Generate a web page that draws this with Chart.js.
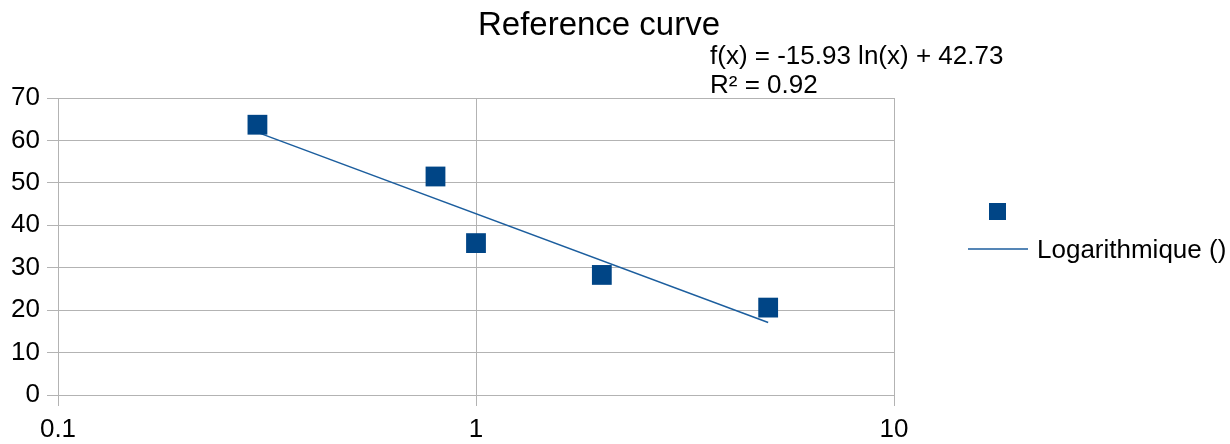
<!DOCTYPE html>
<html>
<head>
<meta charset="utf-8">
<script src="https://cdn.jsdelivr.net/npm/chart.js@4"></script>
<style>
  html, body { margin: 0; padding: 0; background: #fff; }
  #wrap { width: 1230px; height: 444px; position: relative; }
</style>
</head>
<body>
<div id="wrap"><canvas id="refChart"></canvas></div>
<script>
// Data
const xValues = [0.3, 0.8, 1, 2, 5];
const yValues = [63.7, 51.5, 35.8, 28.3, 20.6];

// Logarithmic trend line, end points
const trendX = [0.3, 5];
const trendY = [61.9, 17.1];

const xTicks = [0.1, 1, 10];
const xTickLabels = ['0.1', '1', '10'];

const titleText = 'Reference curve';
const equationLines = ['f(x) = -15.93 ln(x) + 42.73', 'R\u00b2 = 0.92'];
const seriesLabels = ['', 'Logarithmique ()'];

const FONT = "'Liberation Sans', Arial, sans-serif";
const GRID = '#b3b3b3';
const MARKER = '#004586';
const TREND = '#1c5e9e';

// Title, equation and legend drawn by hand (LibreOffice style layout)
const annotations = {
  id: 'annotations',
  afterDraw(chart) {
    const ctx = chart.ctx;
    ctx.save();
    ctx.fillStyle = '#000';
    ctx.textBaseline = 'alphabetic';

    ctx.font = '33px ' + FONT;
    ctx.textAlign = 'center';
    ctx.fillText(titleText, 599, 35);

    ctx.font = '26px ' + FONT;
    ctx.textAlign = 'left';
    ctx.fillText(equationLines[0], 710, 64);
    ctx.fillText(equationLines[1], 710, 93);

    // legend
    const ds = chart.data.datasets;
    ctx.fillStyle = ds[0].backgroundColor;
    ctx.fillRect(989, 203, 17, 17);
    ctx.strokeStyle = ds[1].borderColor;
    ctx.lineWidth = 1.5;
    ctx.beginPath();
    ctx.moveTo(968, 249);
    ctx.lineTo(1028, 249);
    ctx.stroke();
    ctx.fillStyle = '#000';
    ctx.fillText(ds[1].label, 1037, 258);
    ctx.restore();
  }
};

const ctx = document.getElementById('refChart');
new Chart(ctx, {
  type: 'scatter',
  data: {
    datasets: [
      {
        label: seriesLabels[0],
        data: xValues.map((x, i) => ({ x: x, y: yValues[i] })),
        pointStyle: 'rect',
        pointRadius: 14,
        pointHoverRadius: 14,
        backgroundColor: MARKER,
        borderColor: MARKER,
        borderWidth: 0,
        order: 1
      },
      {
        label: seriesLabels[1],
        data: trendX.map((x, i) => ({ x: x, y: trendY[i] })),
        showLine: true,
        pointRadius: 0,
        borderColor: TREND,
        borderWidth: 1.5,
        backgroundColor: TREND,
        order: 2
      }
    ]
  },
  options: {
    responsive: true,
    maintainAspectRatio: false,
    animation: false,
    layout: { padding: { top: 98, right: 336, left: 0, bottom: 0 } },
    plugins: {
      legend: { display: false },
      title: { display: false },
      tooltip: { enabled: false }
    },
    scales: {
      x: {
        type: 'logarithmic',
        position: 'bottom',
        min: 0.1,
        max: 10,
        afterBuildTicks: (scale) => {
          scale.ticks = xTicks.map(v => ({ value: v }));
        },
        afterFit: (scale) => { scale.height = 49; },
        ticks: {
          autoSkip: false,
          maxRotation: 0,
          padding: 8,
          color: '#000',
          font: { family: FONT, size: 26 },
          callback: (value, index) => xTickLabels[index]
        },
        grid: { color: GRID, lineWidth: 1, tickLength: 11, drawTicks: true },
        border: { color: GRID }
      },
      y: {
        min: 0,
        max: 70,
        afterFit: (scale) => { scale.width = 58; },
        ticks: {
          stepSize: 10,
          padding: 7,
          color: '#000',
          font: { family: FONT, size: 26 }
        },
        grid: { color: GRID, lineWidth: 1, tickLength: 11 },
        border: { color: GRID }
      }
    }
  },
  plugins: [annotations]
});
</script>
</body>
</html>
